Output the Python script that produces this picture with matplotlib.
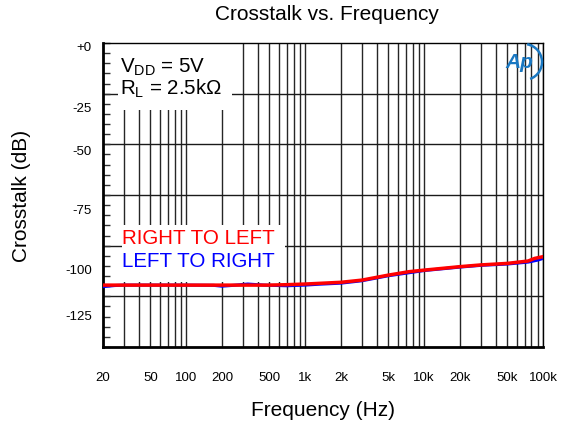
# -*- coding: utf-8 -*-

import numpy as np
import matplotlib
matplotlib.use("Agg")
import matplotlib.pyplot as plt
from matplotlib.patches import Rectangle, Arc

plt.rcParams['font.family'] = ['Liberation Sans', 'DejaVu Sans']
plt.rcParams['mathtext.fontset'] = 'custom'
plt.rcParams['mathtext.rm'] = 'Liberation Sans'
plt.rcParams['mathtext.it'] = 'Liberation Sans:italic'

# Crosstalk curves [Hz, dB]
freq_rl = [20, 30, 50, 100, 200, 300, 500, 700, 1000, 1300, 2000, 3000,
           5000, 7500, 10000, 20000, 30000, 50000, 75000, 85000, 100000]
xtalk_rl = [-111.5, -111.5, -111.5, -111.5, -111.5, -111.5, -111.5, -111.3,
            -111.0, -110.7, -110.2, -109.2, -106.9, -105.3, -104.6, -103.0,
            -102.2, -101.5, -100.4, -99.2, -98.4]

freq_lr = [20, 25, 30, 50, 100, 170, 200, 250, 330, 450, 700, 1000, 1300,
           2000, 3000, 5000, 10000, 20000, 30000, 50000, 75000, 90000, 100000]
xtalk_lr = [-112.2, -111.7, -111.5, -111.5, -111.5, -111.6, -112.0, -111.6,
            -111.0, -111.5, -111.8, -111.5, -111.1, -110.6, -109.5, -107.2,
            -104.8, -103.2, -102.4, -101.8, -100.9, -100.0, -99.2]

# Axis labelling as printed on the chart
x_ticks = [20, 50, 100, 200, 500, 1e3, 2e3, 5e3, 1e4, 2e4, 5e4, 1e5]
x_labels = ['20', '50', '100', '200', '500', '1k', '2k', '5k', '10k', '20k',
            '50k', '100k']
y_ticks = [-1.4, -29.5, -49.3, -76.9, -104.1, -125.3]
y_labels = ['+0', '-25', '-50', '-75', '-100', '-125']

W, H = 570, 428
L, R, T, B = 103, 543, 43, 347

fig = plt.figure(figsize=(W / 100, H / 100), dpi=100)
ax = fig.add_axes([L / W, 1 - B / H, (R - L) / W, (B - T) / H])


def ax_px(px, py):
    # pixel position of the picture -> axes fraction
    return (px - L) / (R - L), (B - py) / (B - T)


ax.set_xscale('log')
ax.set_xlim(20, 1e5)
ax.set_ylim(-140, 0)

# log grid
grid_f = [m * 10 ** d for d in range(1, 5) for m in range(1, 10)] + [1e5]
grid_f = [f for f in grid_f if f > 20]
for f in grid_f:
    ax.axvline(f, color='0.15', linewidth=1.0, zorder=1)
for y in np.linspace(-140, 0, 7)[1:-1]:
    ax.axhline(y, color='0.1', linewidth=1.0, zorder=1)

ax.set_xticks(x_ticks, x_labels)
ax.xaxis.set_minor_locator(matplotlib.ticker.NullLocator())
ax.tick_params(axis='x', length=0, pad=18, labelsize=9.5)
ax.set_yticks(y_ticks, y_labels)
ax.set_yticks(np.linspace(-140, 0, 31), minor=True)
ax.tick_params(axis='y', which='major', length=0, pad=8, labelsize=9.5)
ax.tick_params(axis='y', which='minor', direction='in', length=5,
               width=1.0, color='0.2')

for side in ['left', 'bottom']:
    ax.spines[side].set_linewidth(2.0)
for side in ['top', 'right']:
    ax.spines[side].set_linewidth(1.0)

# white boxes behind the annotations
for x0, y0, x1, y1 in [(118, 43, 232, 110), (122, 225, 285, 282)]:
    ax0, ay1 = ax_px(x0, y0)
    ax1, ay0 = ax_px(x1, y1)
    ax.add_patch(Rectangle((ax0, ay0), ax1 - ax0, ay1 - ay0,
                           transform=ax.transAxes, facecolor='white',
                           edgecolor='none', zorder=2))

ax.text(*ax_px(120, 73), r'V$_{\mathrm{DD}}$ = 5V', fontsize=14.8,
        transform=ax.transAxes, va='baseline', zorder=3)
ax.text(*ax_px(120, 95), r'R$_{\mathrm{L}}$ = 2.5kΩ', fontsize=14.8,
        transform=ax.transAxes, va='baseline', zorder=3)
ax.text(*ax_px(122, 244), 'RIGHT TO LEFT', fontsize=14.8, color='#ff0000',
        transform=ax.transAxes, va='baseline', zorder=3)
ax.text(*ax_px(122, 267), 'LEFT TO RIGHT', fontsize=14.8, color='#0000ff',
        transform=ax.transAxes, va='baseline', zorder=3)

# curves
ax.plot(freq_lr, xtalk_lr, color='#0000ff', linewidth=2.2, zorder=4)
ax.plot(freq_rl, xtalk_rl, color='#ff0000', linewidth=2.5, zorder=5)

# Ap logo
ax.text(*ax_px(519, 63), 'Ap', fontsize=15, color='#1a78c2', style='italic',
        fontweight='bold', ha='center', va='center',
        transform=ax.transAxes, zorder=6)
fig.add_artist(Arc((5.24, (H - 62) / 100), 0.36, 0.36, theta1=-70,
                   theta2=80, color='#1a78c2', linewidth=1.8,
                   transform=fig.dpi_scale_trans))

fig.text(327 / W, 1 - 15 / H, 'Crosstalk vs. Frequency', fontsize=15,
         ha='center', va='center')
fig.text(323 / W, 1 - 411 / H, 'Frequency (Hz)', fontsize=15,
         ha='center', va='center')
fig.text(22 / W, 1 - 196 / H, 'Crosstalk (dB)', fontsize=15,
         ha='center', va='center', rotation=90)

plt.savefig('out.png', format='png', dpi=100)
